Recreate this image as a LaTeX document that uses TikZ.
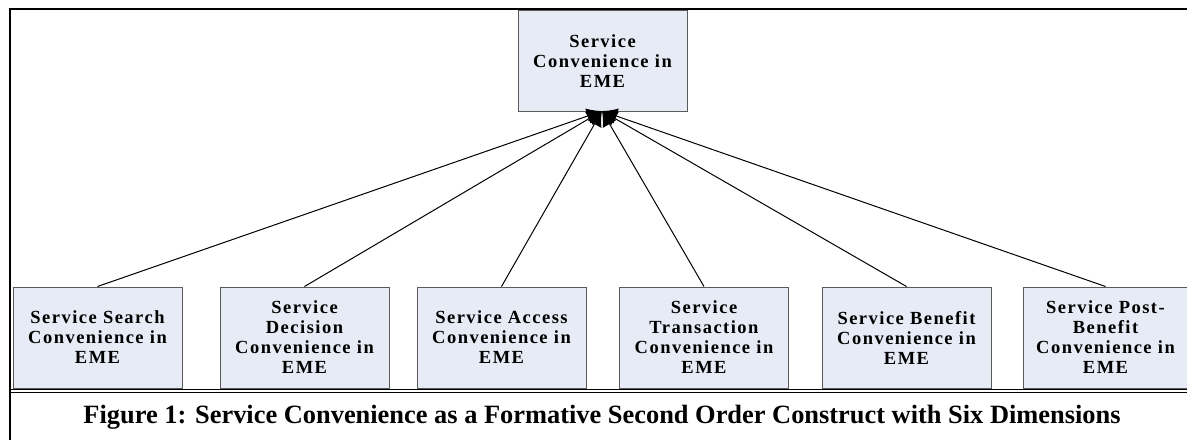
\documentclass[tikz,border=0pt]{standalone}
\usepackage{fontspec}
\setmainfont{Liberation Serif}
\usetikzlibrary{arrows.meta}
\definecolor{boxfill}{HTML}{E6EBF5}
\definecolor{boxline}{HTML}{5A5A5A}
\tikzset{
  construct/.style={draw=boxline, line width=1pt, fill=boxfill,
    minimum width=169pt, minimum height=101pt, inner sep=0pt,
    align=center, text width=165pt,
    font=\fontsize{18.5}{20}\selectfont\bfseries\addfontfeatures{LetterSpace=8}},
  link/.style={line width=1pt, -{Latex[length=15pt,width=16pt]}},
  frame/.style={line width=2.5pt}
}
\begin{document}
\begin{tikzpicture}[x=1pt,y=-1pt]
\useasboundingbox (0,0) rectangle (1187,440);
% outer frame
\draw[frame] (10,440) -- (10,9) -- (1187,9);
\draw[line width=1.4pt] (10,389.3) -- (1187,389.3);
\draw[line width=1.4pt] (10,392.3) -- (1187,392.3);
\draw[line width=1.6pt] (10,392) -- (10,440);
% second-order construct
\node[construct] (top) at (602.5,61) {Service\\Convenience in\\EME};
\coordinate (hub) at (602,111);
% first-order dimensions
\node[construct] (d1) at (97.5,337.5) {Service Search\\Convenience in\\EME};
\node[construct] (d2) at (304.5,337.5) {Service\\Decision\\Convenience in\\EME};
\node[construct] (d3) at (501.5,337.5) {Service Access\\Convenience in\\EME};
\node[construct] (d4) at (704,337.5) {Service\\Transaction\\Convenience in\\EME};
\node[construct] (d5) at (906.5,337.5) {Service Benefit\\Convenience in\\EME};
\node[construct, minimum width=163pt] (d6) at (1105.5,337.5) {Service Post-\\Benefit\\Convenience in\\EME};
% formative links
\foreach \n in {d1,d2,d3,d4,d5,d6}
  \draw[link] (\n.north) -- (hub);
% caption
\node[font=\fontsize{26.4}{30}\selectfont\bfseries] (cap) at (602,417)
  {Figure 1: Service Convenience as a Formative Second Order Construct with Six Dimensions};
\end{tikzpicture}
\end{document}
